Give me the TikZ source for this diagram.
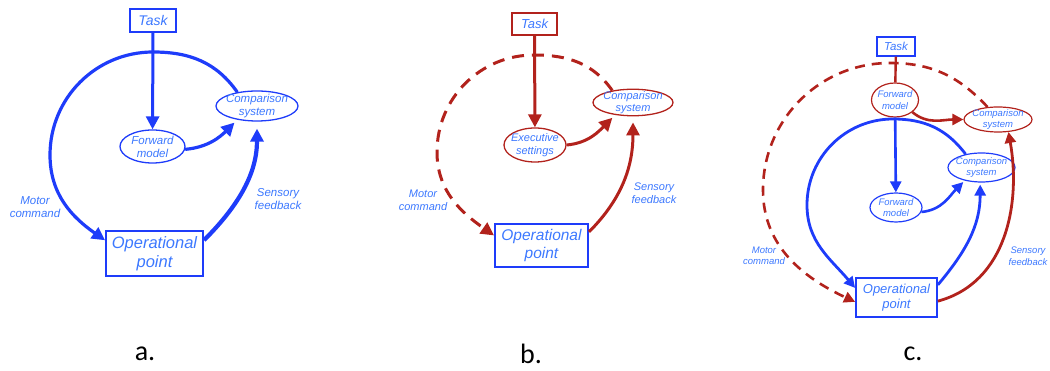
\documentclass[tikz,border=0pt]{standalone}
\usepackage{fontspec}
\setmainfont{Liberation Sans}
\newfontfamily\capfont{Carlito}
\usepackage{xcolor}
\usetikzlibrary{positioning,arrows.meta,shapes.geometric}

\definecolor{lblue}{RGB}{30,60,250}
\definecolor{tblue}{RGB}{60,120,255}
\definecolor{dred}{RGB}{178,34,28}
\newcommand{\fsz}[2]{\fontsize{#1}{#2}\selectfont\itshape}

\tikzset{
  box/.style={draw, rectangle, inner sep=0pt, align=center, text=tblue},
  oval/.style={draw, ellipse, inner xsep=-3pt, inner ysep=-2pt, align=center, text=tblue},
  lbl/.style={text=tblue, align=center},
  tipA/.style={-{Triangle[length=13pt,width=13pt]}},
  tipC/.style={-{Triangle[length=11pt,width=11pt]}},
  dashA/.style={dash pattern=on 12pt off 8pt},
  dashC/.style={dash pattern=on 10pt off 7pt}
}

\begin{document}
\begin{tikzpicture}[x=1pt,y=1pt]
    \useasboundingbox (0,0) rectangle (1050,371);

    % panel a
    \node[box, draw=lblue, line width=1.6, minimum width=46, minimum height=23, font=\fsz{14}{16}] (taskA) at (153,350.5) {Task};
    \node[oval, draw=lblue, line width=1.3, minimum width=65, minimum height=33, font=\fsz{11.5}{13}] (fwdA) at (152.5,224.5) {Forward\\model};
    \node[oval, draw=lblue, line width=1.3, minimum width=82, minimum height=30, font=\fsz{11.5}{13}] (cmpA) at (257,265) {Comparison\\system};
    \node[box, draw=lblue, line width=2, minimum width=97, minimum height=45, font=\fsz{16.5}{19}] (opA) at (154.5,117.5) {Operational\\point};
    \coordinate (aTop) at (153,319);
    \coordinate (aLeft) at (50,216);

    \draw[lblue, line width=3.2, tipA] (cmpA.145) to[out=125,in=0] (aTop) to[out=180,in=90] (aLeft) to[out=-90,in=145] (opA.165);
    \draw[lblue, line width=4.2, tipA, shorten >=7pt] (opA.15) to[out=45,in=-90] (cmpA.south);
    \draw[lblue, line width=3, tipA] (taskA) -- (fwdA);
    \draw[lblue, line width=3.2, tipA, shorten >=4pt] (fwdA.-5) to[out=5,in=225] (cmpA.215);

    \node[lbl, font=\fsz{11.5}{13}] (motA) at (35,164) {Motor\\command};
    \node[lbl, font=\fsz{11.5}{13}] (senA) at (278,172) {Sensory\\feedback};

    % panel b
    \node[box, draw=dred, line width=1.4, minimum width=45, minimum height=22, font=\fsz{13}{15}] (taskB) at (534.5,347) {Task};
    \node[oval, draw=dred, line width=1.3, minimum width=62, minimum height=34, font=\fsz{11}{13}] (exeB) at (535,226) {Executive\\settings};
    \node[oval, draw=dred, line width=1.3, minimum width=80, minimum height=25, font=\fsz{11}{12.5}] (cmpB) at (633,268.5) {Comparison\\system};
    \node[box, draw=lblue, line width=2, minimum width=93, minimum height=43, font=\fsz{15.5}{18}] (opB) at (541.5,125.5) {Operational\\point};
    \coordinate (bTop) at (534,316);
    \coordinate (bLeft) at (437,219);

    \draw[dred, line width=3, dashA, tipA] (cmpB.150) to[out=125,in=0] (bTop) to[out=180,in=90] (bLeft) to[out=-90,in=145] (opB.168);
    \draw[dred, line width=3, tipA, shorten >=6pt] (opB.16) to[out=45,in=-90] (cmpB.south);
    \draw[dred, line width=3, tipA] (taskB) -- (exeB);
    \draw[dred, line width=3, tipA, shorten >=4pt] (exeB.east) to[out=5,in=225] (cmpB.215);

    \node[lbl, font=\fsz{11}{13}] (motB) at (423,171) {Motor\\command};
    \node[lbl, font=\fsz{11}{13}] (senB) at (654,178) {Sensory\\feedback};

    % panel c
    \node[box, draw=lblue, line width=1.3, minimum width=38, minimum height=19, font=\fsz{11.5}{13}] (taskC) at (896,324.5) {Task};
    \node[oval, draw=dred, line width=1.2, minimum width=47, minimum height=34, font=\fsz{9.5}{11.5}] (fwdRC) at (895,271) {Forward\\model};
    \node[oval, draw=dred, line width=1.2, minimum width=68, minimum height=25, font=\fsz{9.5}{11}] (cmpRC) at (998,251.5) {Comparison\\system};
    \node[oval, draw=lblue, line width=1.2, minimum width=52, minimum height=29, font=\fsz{9.5}{11.5}] (fwdBC) at (896,163.5) {Forward\\model};
    \node[oval, draw=lblue, line width=1.2, minimum width=67, minimum height=29, font=\fsz{9.5}{11}] (cmpBC) at (981.5,203.5) {Comparison\\system};
    \node[box, draw=lblue, line width=1.8, minimum width=81, minimum height=39, font=\fsz{13}{15.5}] (opC) at (896.5,73.5) {Operational\\point};
    \coordinate (cTopR) at (890,308);
    \coordinate (cLeftR) at (763,181);
    \coordinate (cTopB) at (893,252);
    \coordinate (cLeftB) at (807,166);

    \draw[dred, line width=2.6, dashC, tipC] (cmpRC.130) to[out=133,in=0] (cTopR) to[out=180,in=90] (cLeftR) to[out=-90,in=155] (opC.186);
    \draw[lblue, line width=2.8, tipC] (cmpBC.140) to[out=127,in=0] (cTopB) to[out=180,in=90] (cLeftB) to[out=-90,in=130] (opC.167);
    \draw[dred, line width=2.4] (taskC) -- (fwdRC);
    \draw[lblue, line width=2.6, tipC] (fwdRC) -- (fwdBC);
    \draw[dred, line width=2.6, tipC] (fwdRC.-35) to[out=-40,in=180] (cmpRC.west);
    \draw[lblue, line width=2.8, tipC, shorten >=2pt] (opC.17) to[out=50,in=-90] (cmpBC.265);
    \draw[lblue, line width=2.6, tipC, shorten >=2pt] (fwdBC.-10) to[out=5,in=225] (cmpBC.218);
    \draw[dred, line width=2.8, tipC] (opC.-5) to[out=15,in=-80] (cmpRC.-50);

    \node[lbl, font=\fsz{9.5}{11.5}] (motC) at (764,115) {Motor\\command};
    \node[lbl, font=\fsz{9.5}{11.5}] (senC) at (1028,115) {Sensory\\feedback};

    % captions
    \foreach \x/\lab in {145/a, 531/b, 913/c} {
        \node[font=\capfont\fontsize{28}{30}\selectfont] (cap\lab) at (\x,17) {\lab.};
    }
\end{tikzpicture}
\end{document}
